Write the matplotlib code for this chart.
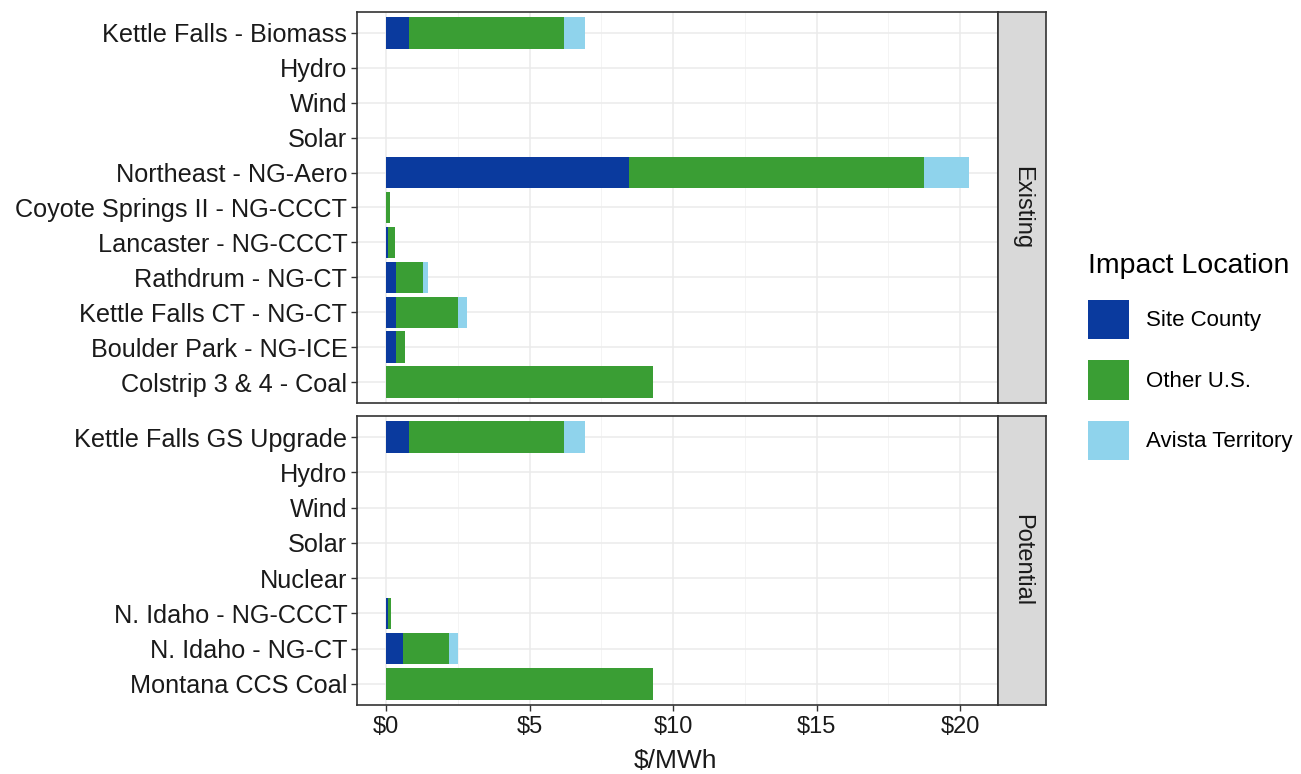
import numpy as np
import matplotlib
matplotlib.use("Agg")
import matplotlib.pyplot as plt
from matplotlib.ticker import MultipleLocator, FuncFormatter

plt.rcParams['font.family'] = ['Liberation Sans', 'DejaVu Sans']

# Existing resources ($/MWh)
existing_labels = ['Kettle Falls - Biomass', 'Hydro', 'Wind', 'Solar', 'Northeast - NG-Aero',
                   'Coyote Springs II - NG-CCCT', 'Lancaster - NG-CCCT', 'Rathdrum - NG-CT',
                   'Kettle Falls CT - NG-CT', 'Boulder Park - NG-ICE', 'Colstrip 3 & 4 - Coal']
existing_site = [0.8, 0, 0, 0, 8.45, 0.0, 0.07, 0.33, 0.33, 0.33, 0.0]
existing_other = [5.4, 0, 0, 0, 10.3, 0.15, 0.23, 0.96, 2.17, 0.33, 9.3]
existing_avista = [0.73, 0, 0, 0, 1.55, 0.0, 0.0, 0.17, 0.32, 0.0, 0.0]

# Potential resources ($/MWh)
potential_labels = ['Kettle Falls GS Upgrade', 'Hydro', 'Wind', 'Solar', 'Nuclear',
                    'N. Idaho - NG-CCCT', 'N. Idaho - NG-CT', 'Montana CCS Coal']
potential_site = [0.8, 0, 0, 0, 0, 0.08, 0.6, 0.0]
potential_other = [5.4, 0, 0, 0, 0, 0.1, 1.6, 9.3]
potential_avista = [0.73, 0, 0, 0, 0, 0.0, 0.3, 0.0]

series_names = ['Site County', 'Other U.S.', 'Avista Territory']
colors = ['#0a3a9e', '#3a9e34', '#8fd3ec']

W, H = 1301, 774
fig = plt.figure(figsize=(W / 100, H / 100), dpi=100)


def px_axes(x0, y0, x1, y1):
    return fig.add_axes([x0 / W, 1 - y1 / H, (x1 - x0) / W, (y1 - y0) / H])


totals = np.array(existing_site) + np.array(existing_other) + np.array(existing_avista)
xmax = totals.max()
xlim = (-0.05 * xmax, xmax * 1.05)

panels = [
    ('Existing', existing_labels, [existing_site, existing_other, existing_avista], (12, 403)),
    ('Potential', potential_labels, [potential_site, potential_other, potential_avista], (416, 705)),
]

for i, (name, labels, vals, (top, bot)) in enumerate(panels):
    ax = px_axes(357, top, 998, bot)
    y = np.arange(len(labels))
    left = np.zeros(len(labels))
    for v, c, s in zip(vals, colors, series_names):
        v = np.array(v)
        ax.barh(y, v, left=left, height=0.9, color=c, label=s, zorder=3)
        left += v
    ax.set_xlim(*xlim)
    ax.set_ylim(len(labels) - 0.4, -0.6)
    ax.set_yticks(y)
    ax.set_yticklabels(labels, fontsize=18.2, color='#1a1a1a')
    ax.xaxis.set_major_locator(MultipleLocator(5))
    ax.xaxis.set_minor_locator(MultipleLocator(2.5))
    ax.grid(True, which='major', color='#ebebeb', lw=1.1, zorder=0)
    ax.grid(True, which='minor', axis='x', color='#f2f2f2', lw=0.6, zorder=0)
    ax.tick_params(axis='both', which='major', length=4, width=1, color='#333333', pad=3)
    ax.tick_params(axis='x', which='minor', length=0)
    for sp in ax.spines.values():
        sp.set_color('#333333')
        sp.set_linewidth(1.2)
    if i == 0:
        ax.tick_params(axis='x', labelbottom=False, length=0)
    else:
        ax.xaxis.set_major_formatter(FuncFormatter(lambda v, p: r'\$%d' % v))
        ax.tick_params(axis='x', labelsize=17, labelcolor='#1a1a1a', pad=4)
        handles, leg_labels = ax.get_legend_handles_labels()

    # facet strip
    sax = px_axes(998, top, 1046, bot)
    sax.set_xticks([])
    sax.set_yticks([])
    sax.set_facecolor('#d9d9d9')
    for sp in sax.spines.values():
        sp.set_color('#333333')
        sp.set_linewidth(1.2)
    sax.text(0.5, 0.5, name, rotation=-90, ha='center', va='center', fontsize=17,
             color='#1a1a1a', transform=sax.transAxes)

fig.text(675 / W, 1 - 773 / H, r'\$/MWh', ha='center', va='bottom', fontsize=19, color='#1a1a1a')

leg = fig.legend(handles, leg_labels, loc='upper left', bbox_to_anchor=(1070 / W, 1 - 235 / H),
                 frameon=False, title='Impact Location', title_fontsize=20.5, fontsize=16,
                 handlelength=1.85, handleheight=2.35, labelspacing=0.95, handletextpad=0.75,
                 borderpad=0.3)
leg._legend_box.align = 'left'

fig.savefig('out.png', dpi=100)
